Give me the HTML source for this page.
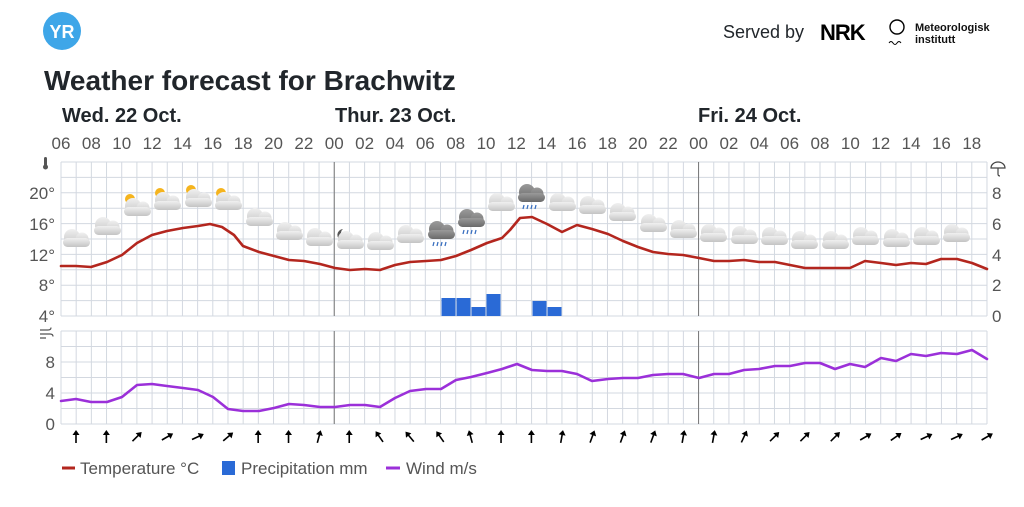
<!DOCTYPE html>
<html><head><meta charset="utf-8"><style>
html,body{margin:0;padding:0;background:#fff;width:1024px;height:507px;overflow:hidden}
svg{display:block;font-family:"Liberation Sans",sans-serif}
</style></head><body>
<svg id="s" width="1024" height="507" viewBox="0 0 1024 507" xmlns="http://www.w3.org/2000/svg">
<defs>
<linearGradient id="cl" x1="0" y1="0" x2="0" y2="1"><stop offset="0" stop-color="#f0f0f0"/><stop offset="1" stop-color="#c4c4c4"/></linearGradient>
<linearGradient id="cd" x1="0" y1="0" x2="0" y2="1"><stop offset="0" stop-color="#9a9a9a"/><stop offset="1" stop-color="#6a6a6a"/></linearGradient>
<g id="cloud"><circle cx="-4" cy="-3" r="8"/><circle cx="6" cy="-1" r="6.5"/><rect x="-13" y="-2" width="27" height="9" rx="4.5"/></g>
</defs>
<circle cx="62" cy="31" r="19" fill="#3ea6e8"/>
<text x="62" y="38" font-size="18" font-weight="bold" fill="#fff" text-anchor="middle">YR</text>
<text x="44" y="90" font-size="28" font-weight="bold" fill="#21262b">Weather forecast for Brachwitz</text>
<text x="723" y="38" font-size="18" fill="#21262b">Served by</text>
<text x="820" y="40" font-size="22" font-weight="bold" fill="#000" letter-spacing="-1">NRK</text>
<circle cx="897" cy="27" r="7" fill="none" stroke="#000" stroke-width="1.4"/>
<path d="M889 43 q2 -3 4 0 t4 0 t4 0" fill="none" stroke="#000" stroke-width="1"/>
<text x="915" y="31" font-size="11" font-weight="bold" fill="#111">Meteorologisk</text>
<text x="915" y="43" font-size="11" font-weight="bold" fill="#111">institutt</text>
<text x="62" y="122" font-size="20" font-weight="bold" fill="#21262b">Wed. 22 Oct.</text>
<text x="335" y="122" font-size="20" font-weight="bold" fill="#21262b">Thur. 23 Oct.</text>
<text x="698" y="122" font-size="20" font-weight="bold" fill="#21262b">Fri. 24 Oct.</text>
<g id="g"></g>
</svg>
<script>
var g=document.getElementById('g'),h='';
var X0=61,CW=15.18,R=987;
function X(i){return X0+i*CW}
for(var i=0;i<=61;i++){var x=X(i);h+='<line x1="'+x+'" y1="162" x2="'+x+'" y2="316" stroke="#d3d8e0" stroke-width="1"/><line x1="'+x+'" y1="331" x2="'+x+'" y2="424" stroke="#d3d8e0" stroke-width="1"/>';}
for(var k=0;k<=10;k++){var y=162+k*15.4;h+='<line x1="61" y1="'+y+'" x2="'+R+'" y2="'+y+'" stroke="#d3d8e0"/>';}
for(var k=0;k<=6;k++){var y=331+k*15.5;h+='<line x1="61" y1="'+y+'" x2="'+R+'" y2="'+y+'" stroke="#d3d8e0"/>';}
[18,42].forEach(function(i){var x=X(i);h+='<line x1="'+x+'" y1="162" x2="'+x+'" y2="316" stroke="#777"/><line x1="'+x+'" y1="331" x2="'+x+'" y2="424" stroke="#777"/>';});
for(var i=0;i<=30;i++){var hr=(6+i*2)%24;h+='<text x="'+X(i*2)+'" y="149" font-size="17" fill="#555" text-anchor="middle">'+(hr<10?'0':'')+hr+'</text>';}
[[20,193],[16,224],[12,255],[8,285],[4,316]].forEach(function(a){h+='<text x="55" y="'+(a[1]+6)+'" font-size="17" fill="#555" text-anchor="end">'+a[0]+'°</text>';});
[[8,193],[6,224],[4,255],[2,285],[0,316]].forEach(function(a){h+='<text x="992" y="'+(a[1]+6)+'" font-size="17" fill="#555">'+a[0]+'</text>';});
[[8,362],[4,393],[0,424]].forEach(function(a){h+='<text x="55" y="'+(a[1]+6)+'" font-size="17" fill="#555" text-anchor="end">'+a[0]+'</text>';});
h+='<rect x="44" y="157" width="3" height="9" rx="1.5" fill="#555"/><circle cx="45.5" cy="167" r="2.5" fill="#555"/>';
h+='<path d="M991 168 a7 6 0 0 1 14 0 z" fill="none" stroke="#444" stroke-width="1.2"/><path d="M998 168 v6 q0 2 2 2" fill="none" stroke="#444" stroke-width="1.2"/>';
h+='<path d="M40 330 h8 q3 0 3 -2.5 M40 334 h10 q3 0 3 2.5 M40 338 h6" fill="none" stroke="#555" stroke-width="1.2"/>';
[[441,298],[456,298],[471,307],[486,294],[532,301],[547,307]].forEach(function(b){h+='<rect x="'+(b[0]+0.5)+'" y="'+b[1]+'" width="14" height="'+(316-b[1])+'" fill="#2a6ad6"/>';});
var ic=[[76,240,0],[107,228,0],[137,209,1],[167,203,1],[198,200,1],[228,203,1],[259,219,0],[289,233,0],[319,239,0],[350,242,3],[380,243,0],[410,236,0],[441,232,2],[471,220,2],[501,204,0],[531,195,2],[562,204,0],[592,207,0],[622,214,0],[653,225,0],[683,231,0],[713,235,0],[744,237,0],[774,238,0],[804,242,0],[835,242,0],[865,238,0],[896,240,0],[926,238,0],[956,235,0]];
ic.forEach(function(c){var x=c[0],y=c[1],t=c[2];
 if(t==1){h+='<circle cx="'+(x-7)+'" cy="'+(y-10)+'" r="5" fill="#f5b41e"/>';}
 if(t==3){h+='<path d="M'+(x-7)+' '+(y-13)+' a6 6 0 1 0 6 8 a5 5 0 0 1 -6 -8z" fill="#555"/>';}
 h+='<use href="#cloud" x="'+x+'" y="'+y+'" fill="url(#'+(t==2?'cd':'cl')+')"/>';
 if(t==2){for(var j=0;j<4;j++)h+='<line x1="'+(x-7+j*4)+'" y1="'+(y+10)+'" x2="'+(x-8+j*4)+'" y2="'+(y+14)+'" stroke="#3a70c0" stroke-width="1.3"/>';}
});
var T=[[61,266],[76,266],[91,267],[107,262],[122,255],[137,243],[152,235],[167,231],[183,228],[198,226],[210,224],[222,227],[234,235],[243,246],[259,252],[274,256],[289,260],[304,261],[320,264],[335,268],[350,270],[365,269],[380,270],[395,265],[410,262],[426,261],[441,260],[456,256],[471,250],[487,243],[502,238],[510,230],[520,218],[532,217],[547,224],[562,232],[577,225],[592,229],[608,234],[623,241],[638,247],[653,252],[668,254],[683,255],[699,258],[714,261],[729,261],[744,260],[759,262],[775,262],[790,265],[805,268],[820,268],[835,268],[850,268],[865,261],[881,263],[896,265],[911,263],[926,264],[941,259],[957,259],[972,263],[987,269]];
var W=[[61,401],[76,399],[91,402],[107,402],[122,397],[137,385],[152,384],[167,386],[183,388],[198,390],[213,397],[228,409],[243,411],[259,411],[274,408],[289,404],[304,405],[320,407],[335,407],[350,405],[365,405],[380,407],[395,398],[410,391],[426,389],[441,389],[456,380],[471,377],[487,373],[502,369],[517,364],[532,370],[547,371],[562,371],[577,374],[592,381],[608,379],[623,378],[638,378],[653,375],[668,374],[683,374],[699,378],[714,374],[729,374],[744,370],[759,369],[775,366],[790,366],[805,363],[820,363],[835,369],[850,364],[865,367],[881,358],[896,361],[911,354],[926,356],[941,353],[957,354],[972,350],[987,359]];
function pl(a,c){return '<polyline points="'+a.map(function(p){return p.join(',')}).join(' ')+'" fill="none" stroke="'+c+'" stroke-width="2.6" stroke-linejoin="round" stroke-linecap="round"/>';}
h+=pl(T,'#b3261e')+pl(W,'#9b30d9');
var A=[0,0,45,60,65,50,0,0,15,0,-35,-40,-35,-15,0,0,10,20,20,20,10,10,25,45,45,45,60,55,65,65,60];
A.forEach(function(a,i){var x=76+i*30.36;h+='<g transform="translate('+x+',437) rotate('+a+')"><line x1="0" y1="6" x2="0" y2="-5" stroke="#000" stroke-width="1.6"/><path d="M-3.5 -2 L0 -7 L3.5 -2z" fill="#000"/></g>';});
h+='<line x1="62" y1="468" x2="75" y2="468" stroke="#b3261e" stroke-width="3"/><text x="80" y="474" font-size="17" fill="#555">Temperature °C</text>';
h+='<rect x="222" y="461" width="13" height="14" fill="#2a6ad6"/><text x="241" y="474" font-size="17" fill="#555">Precipitation mm</text>';
h+='<line x1="386" y1="468" x2="400" y2="468" stroke="#9b30d9" stroke-width="3"/><text x="406" y="474" font-size="17" fill="#555">Wind m/s</text>';
g.innerHTML=h;
</script>
</body></html>
